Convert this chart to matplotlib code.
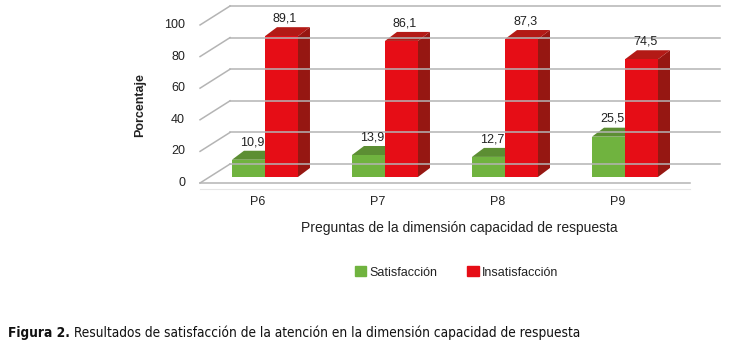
import matplotlib.pyplot as plt
from matplotlib.patches import Patch

categories = ["P6", "P7", "P8", "P9"]
satisfaccion = [10.9, 13.9, 12.7, 25.5]
insatisfaccion = [89.1, 86.1, 87.3, 74.5]
yticks = [0, 20, 40, 60, 80, 100]
xtitle = "Preguntas de la dimensión capacidad de respuesta"
ytitle = "Porcentaje"
caption_bold = "Figura 2."
caption_text = " Resultados de satisfacción de la atención en la dimensión capacidad de respuesta"

colors = {
    "Satisfacción": ("#70B33F", "#5C8E33", "#4C7A28"),
    "Insatisfacción": ("#E60D16", "#B31A16", "#961712"),
}

# 3d look: wall depth and bar depth, in data units
wall_left, wall_right = -0.483, 3.6
wall_dx, wall_dv = 0.25, 12.0
bar_shift, bar_base = 0.058, 3.8
bar_w = 0.275
bar_dx, bar_dv = 0.1, 5.7
grid_color = "#B4B4B4"
font = ["Liberation Sans", "DejaVu Sans"]

fig = plt.figure(figsize=(7.45, 3.5), dpi=100)
ax = fig.add_axes([0, 0, 1, 1])
ax.set_xlim(-2.15, 4.058)
ax.set_ylim(-105.7, 115.8)
ax.axis("off")

# walls: side diagonals and back gridlines
for v in yticks:
    ax.plot([wall_left, wall_left + wall_dx], [v, v + wall_dv], color=grid_color, lw=1.1)
    ax.plot([wall_left + wall_dx, wall_right + wall_dx], [v + wall_dv, v + wall_dv], color=grid_color, lw=1.1)
    ax.text(wall_left - 0.125, v, str(v), ha="right", va="center", fontsize=9, family=font, color="#222222")
ax.plot([wall_left, wall_right], [0, 0], color=grid_color, lw=1.1)
ax.plot([wall_left, wall_right], [-4, -4], color="#E6E6E6", lw=0.8)


def draw_bar(x0, value, cols):
    front, top, side = cols
    x1 = x0 + bar_w
    h = bar_base + value
    ax.fill([x1, x1 + bar_dx, x1 + bar_dx, x1],
            [bar_base, bar_base + bar_dv, h + bar_dv, h], color=side, lw=0)
    ax.fill([x0, x1, x1 + bar_dx, x0 + bar_dx],
            [h, h, h + bar_dv, h + bar_dv], color=top, lw=0)
    ax.fill([x0, x1, x1, x0], [bar_base, bar_base, h, h], color=front, lw=0)
    label = f"{value:.1f}".replace(".", ",")
    ax.text((x0 + x1) / 2 + bar_dx / 2 - 0.02, h + bar_dv + 5.5, label,
            ha="center", va="center", fontsize=9, family=font, color="#222222")


for i, cat in enumerate(categories):
    c = i + bar_shift
    draw_bar(c - bar_w, satisfaccion[i], colors["Satisfacción"])
    draw_bar(c, insatisfaccion[i], colors["Insatisfacción"])
    ax.text(i, -12, cat, ha="center", va="center", fontsize=9, family=font, color="#222222")

ax.text(1.675, -28.5, xtitle, ha="center", va="center", fontsize=10, family=font, color="#222222")
ax.text(-0.983, 49.4, ytitle, ha="center", va="center", rotation=90, fontsize=9,
        fontweight="bold", family=font, color="#222222")

handles = [Patch(color=colors[k][0], label=k) for k in colors]
fig.legend(handles=handles, loc="center", bbox_to_anchor=(0.613, 0.222), ncol=2, frameon=False,
           prop={"family": font, "size": 9}, handlelength=0.9, handleheight=0.9,
           handletextpad=0.25, columnspacing=2.4, labelcolor="#222222")

# caption: bold part then normal part, in a condensed face
renderer = fig.canvas.get_renderer()
t1 = fig.text(8 / 745, 17 / 350, caption_bold, ha="left", va="center", fontsize=9.8,
              fontweight="bold", family="DejaVu Sans", fontstretch="condensed", color="#111111")
bb = t1.get_window_extent(renderer)
fig.text(bb.x1 / 745, 17 / 350, caption_text, ha="left", va="center", fontsize=9.8,
         family="DejaVu Sans", fontstretch="condensed", color="#111111")

fig.savefig("out.png", dpi=100)
